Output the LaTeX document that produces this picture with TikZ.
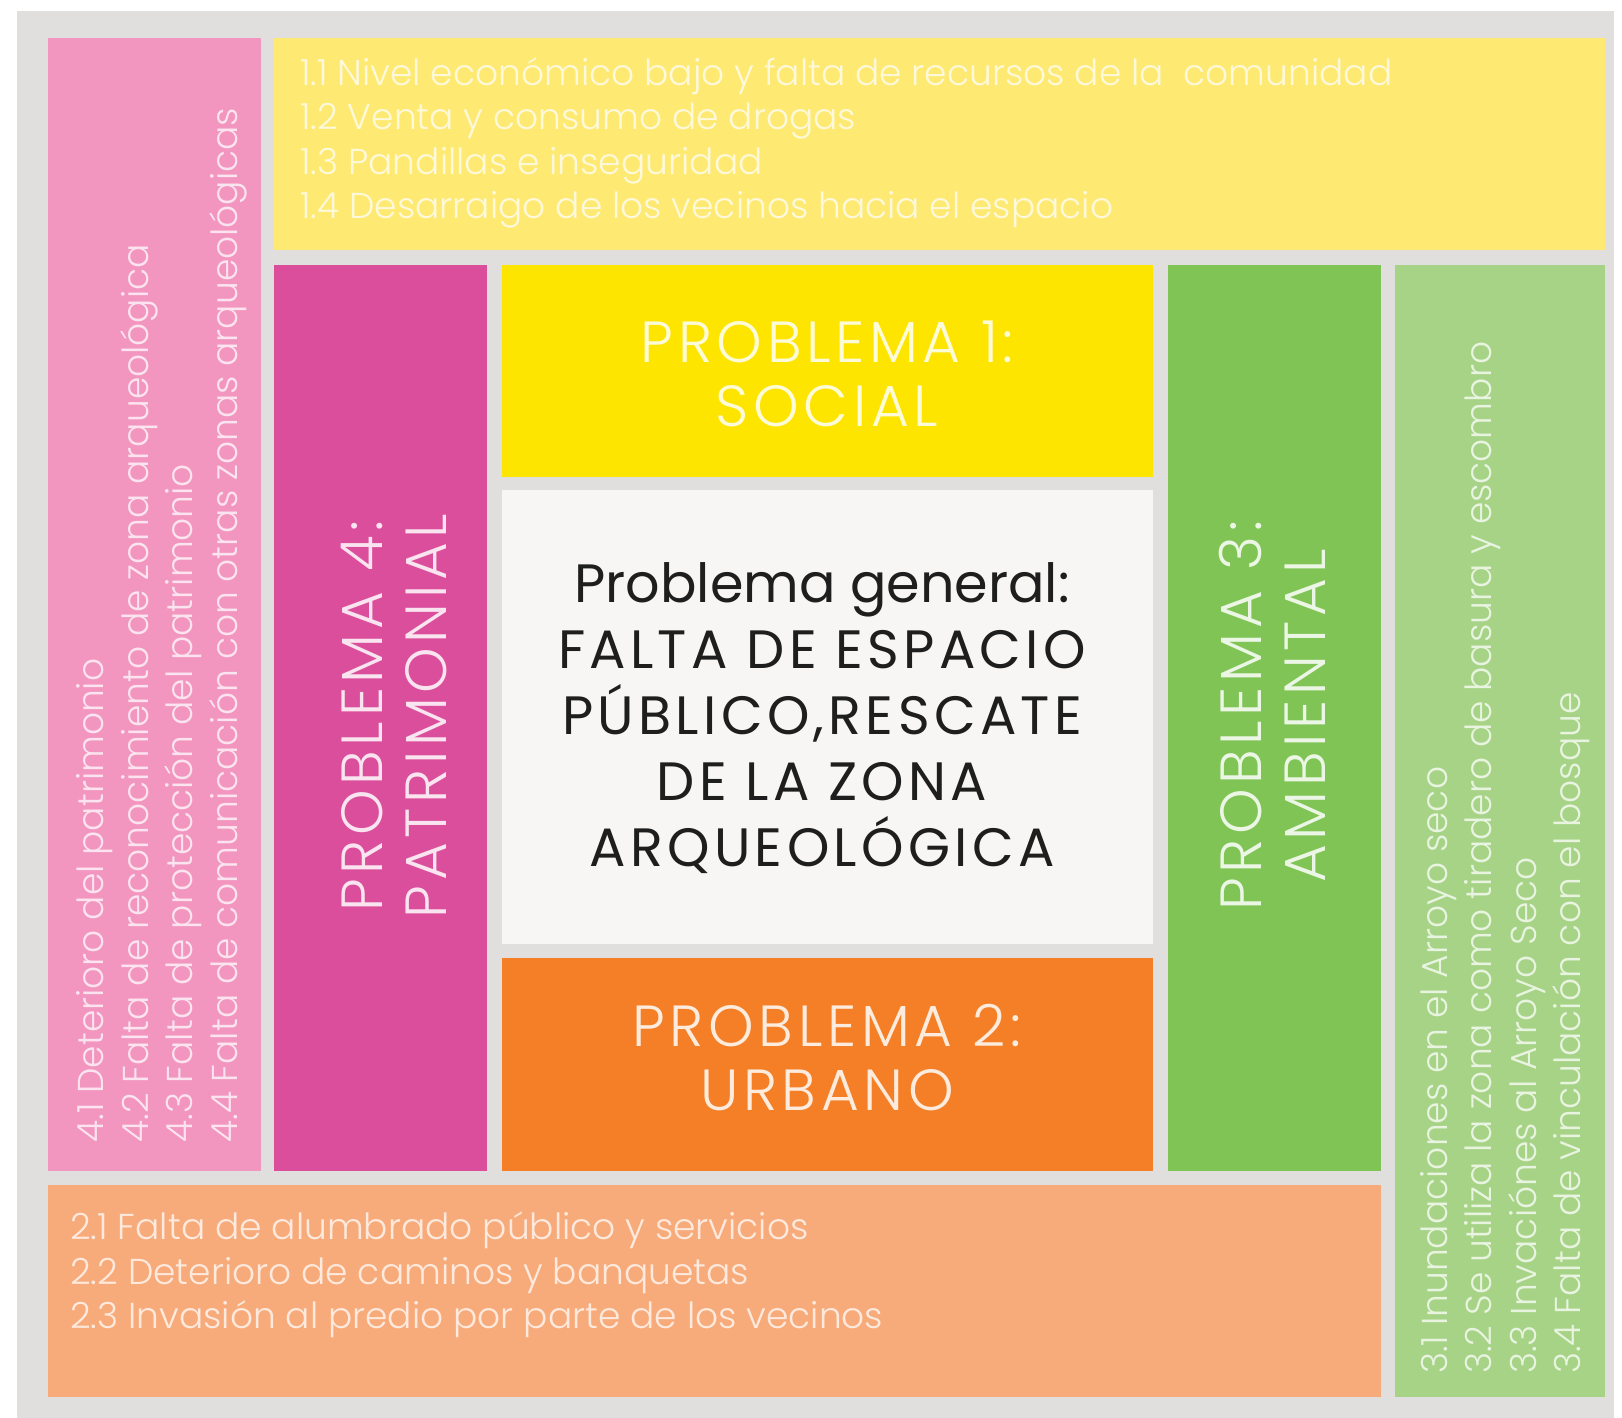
\documentclass[tikz,border=0pt]{standalone}
\usepackage{fontspec}
\setmainfont{Poppins}[UprightFont=* Light]
\newfontfamily\titlefont{Poppins}[UprightFont=* Light, LetterSpace=8]
\newfontfamily\bookfont{Poppins}
\newfontfamily\bookcaps{Poppins}[LetterSpace=8]
\definecolor{bggray}{HTML}{E0DFDD}
\definecolor{pinkl}{HTML}{F296C0}
\definecolor{yell}{HTML}{FEE972}
\definecolor{magen}{HTML}{DB4E9C}
\definecolor{yelg}{HTML}{FDE500}
\definecolor{centerw}{HTML}{F7F6F4}
\definecolor{orng}{HTML}{F47F26}
\definecolor{grn}{HTML}{80C455}
\definecolor{grnl}{HTML}{A6D386}
\definecolor{orngl}{HTML}{F8AB7A}
\definecolor{darktext}{HTML}{1E1E1E}
\tikzset{
  listtext/.style={text=white, text opacity=0.75, inner sep=0pt, align=left,
    font=\fontsize{18}{22.25}\selectfont},
  titletext/.style={text=white, text opacity=0.85, inner sep=0pt, align=center,
    font=\titlefont\fontsize{29}{32}\selectfont},
  maintext/.style={text=darktext, inner sep=0pt, align=center,
    font=\bookfont\fontsize{27}{33}\selectfont},
}
\begin{document}
\begin{tikzpicture}[x=0.5pt,y=-0.5pt]
\useasboundingbox (0,0) rectangle (1622,1418);
\fill[white] (0,0) rectangle (1622,1418);
\fill[bggray] (17,11) rectangle (1614,1418);
% boxes
\fill[pinkl]   (48,38)    rectangle (261,1171);
\fill[yell]    (274,38)   rectangle (1605,250);
\fill[magen]   (274,265)  rectangle (487,1171);
\fill[yelg]    (502,265)  rectangle (1153,477);
\fill[centerw] (502,490)  rectangle (1153,944);
\fill[orng]    (502,958)  rectangle (1153,1171);
\fill[grn]     (1168,265) rectangle (1381,1171);
\fill[grnl]    (1395,265) rectangle (1605,1397);
\fill[orngl]   (48,1185)  rectangle (1381,1397);
% texts
\node[listtext, anchor=west] (l1) at (300,143)
  {1.1 Nivel económico bajo y falta de recursos de la\ \ comunidad\\
   1.2 Venta y consumo de drogas\\
   1.3 Pandillas e inseguridad\\
   1.4 Desarraigo de los vecinos hacia el espacio};
\node[listtext, anchor=west] (l2) at (70,1275)
  {2.1 Falta de alumbrado público y servicios\\
   2.2 Deterioro de caminos y banquetas\\
   2.3 Invasión al predio por parte de los vecinos};
\node[listtext, anchor=west, rotate=90] (l4) at (162,1143)
  {4.1 Deterioro del patrimonio\\
   4.2 Falta de reconocimiento de zona arqueológica\\
   4.3 Falta de protección del patrimonio\\
   4.4 Falta de comunicación con otras zonas arqueológicas};
\node[listtext, anchor=west, rotate=90] (l3) at (1505,1374)
  {3.1 Inundaciones en el Arroyo seco\\
   3.2 Se utiliza la zona como tiradero de basura y escombro\\
   3.3 Invaciónes al Arroyo Seco\\
   3.4 Falta de vinculación con el bosque};
\node[titletext] (p1) at (827,374) {PROBLEMA 1:\\SOCIAL};
\node[titletext] (p2) at (827,1058) {PROBLEMA 2:\\URBANO};
\node[titletext, rotate=90] (p4) at (394,716) {PROBLEMA 4:\\PATRIMONIAL};
\node[titletext, rotate=90] (p3) at (1272,716) {PROBLEMA 3:\\AMBIENTAL};
\node[maintext] (pg) at (822,718)
  {Problema general:\\{\bookcaps FALTA DE ESPACIO}\\{\bookcaps PÚBLICO,RESCATE}\\{\bookcaps DE LA ZONA}\\{\bookcaps ARQUEOLÓGICA}};
\end{tikzpicture}
\end{document}
